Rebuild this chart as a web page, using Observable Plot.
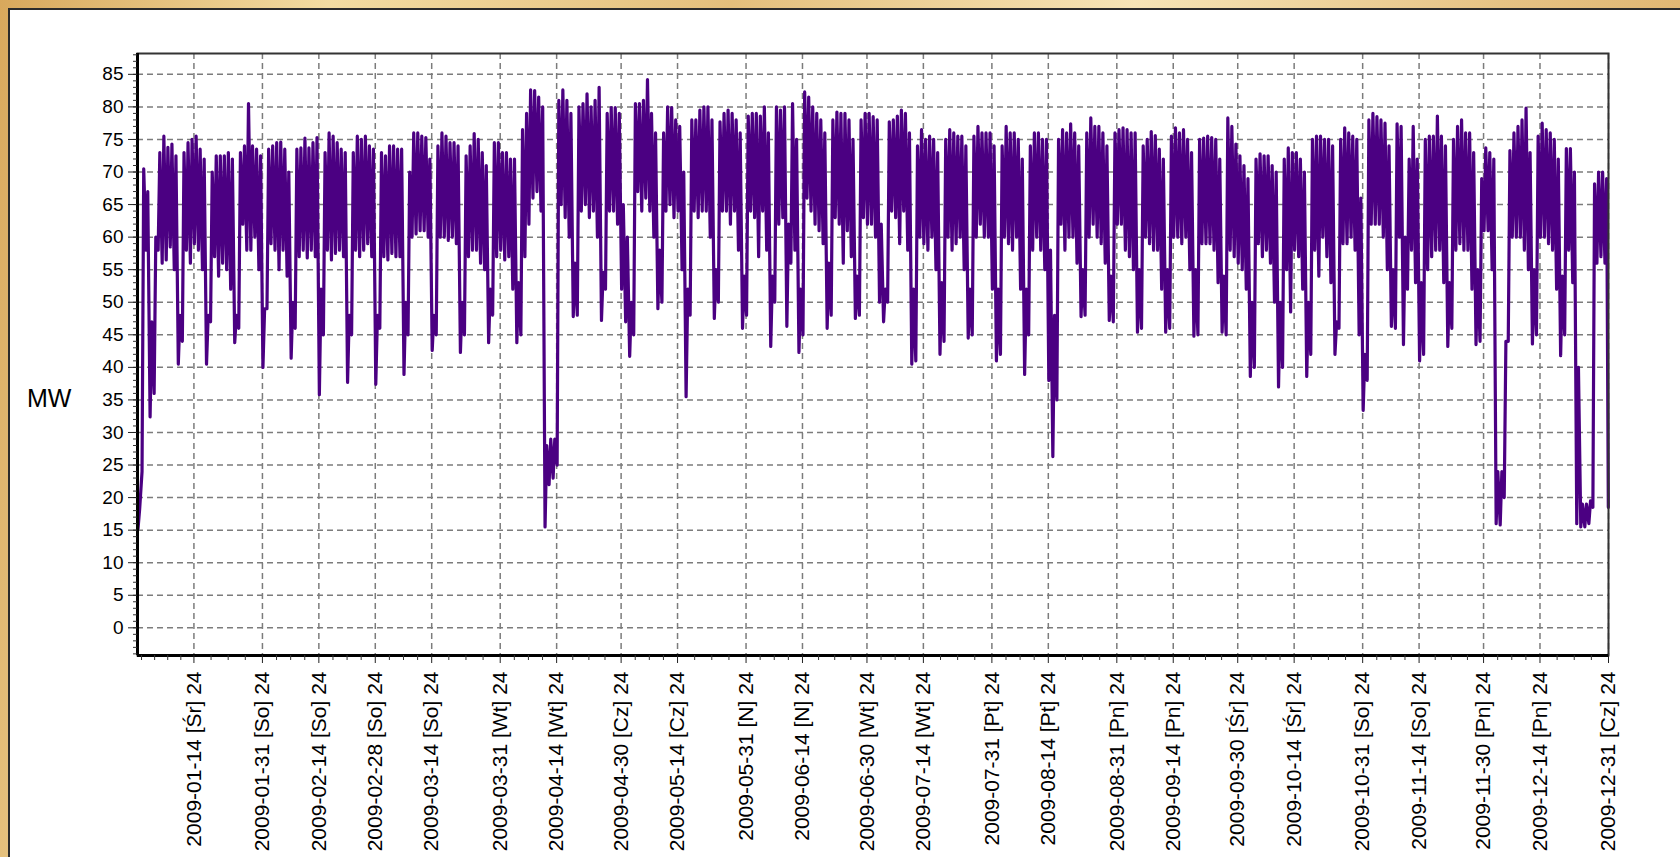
<!DOCTYPE html>
<html>
<head>
<meta charset="utf-8">
<script src="https://cdn.jsdelivr.net/npm/d3@7"></script>
<script src="https://cdn.jsdelivr.net/npm/@observablehq/plot@0.6"></script>
<style>
  html, body { margin: 0; padding: 0; width: 1680px; height: 857px; overflow: hidden; }
  body {
    position: relative;
    font-family: "Liberation Sans", Arial, sans-serif;
    background: linear-gradient(100deg, #d8a85c 0%, #f3dca2 18%, #e4bf7c 40%, #f6e4b6 62%, #e6c384 82%, #dcae66 100%);
  }
  #panel { position: absolute; left: 8px; top: 8px; right: 0; bottom: 0; background: #fff;
           border-top: 2px solid #2b2b2b; border-left: 2px solid #2b2b2b; }
  #unit { position: absolute; left: 27px; top: 386px; font-size: 25px; line-height: 25px; color: #000; }
  #chart { position: absolute; left: 0; top: 0; }
</style>
</head>
<body>
<div id="panel"></div>
<div id="unit">MW</div>
<div id="chart"></div>
<script>
// ---- data (hourly load 2009, read per day: night trough and daily peak, MW) ----
const dailyLowMW = [
  15.2, 24, 58, 32.4, 36, 58, 56,
  56.5, 58.5, 55, 40.5, 44, 58, 56,
  59, 58, 55, 40.5, 47, 57, 54,
  56, 55, 52, 43.8, 46, 62, 58,
  58, 60, 55, 40, 49, 59, 58,
  55, 58, 54, 41.4, 46, 57, 58,
  56.8, 58, 57, 35.8, 45, 58, 56.5,
  57.5, 58, 57, 37.7, 45, 58, 57,
  58, 59, 57, 37.4, 46, 57, 56.5,
  57.5, 57, 57, 38.9, 45, 60, 60.5,
  61, 61, 60, 42.6, 45, 60, 60,
  59.5, 60, 59, 42.3, 45, 57, 58,
  58, 56, 55, 43.8, 48, 57, 58,
  56.5, 57, 52, 43.8, 45, 57, 62,
  66, 67, 64, 15.5, 22, 23, 25,
  65, 63, 60, 47.8, 48, 64, 65,
  63, 64, 60, 47.2, 52, 64, 64,
  62, 52, 47, 41.7, 45, 67, 64,
  66, 64, 60, 49, 50, 64, 65,
  63, 64, 55, 35.5, 48, 64, 63,
  64, 64, 60, 47.5, 50, 64, 64,
  62, 64, 58, 46, 48, 64, 63,
  57, 64, 58, 43.2, 50, 62, 63,
  46.3, 56, 58, 42.3, 45, 66, 64,
  62, 61, 59, 46, 48, 63, 62,
  56, 61, 57, 47.5, 48, 63, 62,
  62, 60, 50, 47, 50, 64, 63,
  59, 64, 58, 40.5, 41, 60, 59,
  58, 60, 55, 42, 44, 60, 58,
  59, 60, 55, 44.5, 45, 60, 62,
  60, 60, 52, 41, 42, 60, 59,
  58, 60, 52, 38.9, 45, 58, 60,
  58, 55, 38, 26.3, 35, 62, 58,
  60, 60, 56, 47.8, 48, 60, 62,
  60, 59, 56, 47.2, 47, 62, 62,
  58, 57, 55, 45.4, 46, 60, 59,
  58, 58, 52, 45.4, 46, 60, 60,
  59, 60, 55, 44.8, 45, 59, 59,
  59, 58, 53, 45.4, 45, 58, 57,
  56, 55, 52, 38.6, 40, 59, 57,
  58, 56, 50, 37, 40, 55, 48.5,
  58, 57, 52, 38.6, 42, 58, 54,
  60, 57, 53, 42, 46, 59, 59,
  60, 58, 45, 33.4, 38, 62, 62,
  62, 60, 55, 46.3, 46, 60, 43.5,
  52, 58, 53, 41, 42, 55, 57,
  58, 58, 53, 43.2, 46, 58, 59,
  58, 58, 52, 43.5, 44, 61, 61,
  55, 16, 15.8, 20, 44, 60, 60,
  60, 58, 55, 43.6, 45, 60, 60,
  59, 58, 52, 41.8, 45, 58, 53,
  16, 15.5, 15.5, 16, 18.5, 56, 57,
  56
];
const dailyPeakMW = [
  18.3, 70.5, 67, 47, 60, 73, 75.5,
  73.8, 74.3, 72.5, 48, 73, 74.5, 75,
  75.5, 73.5, 72, 48, 70, 72.5, 72.5,
  72.5, 73, 72, 48, 73, 74, 80.5,
  74, 73.5, 72.5, 49, 73.5, 74, 74.5,
  74.6, 73.5, 70, 50, 73.5, 73.7, 75.2,
  73.7, 74.5, 75.3, 52, 73, 76, 75.5,
  74.5, 73.5, 73, 48, 73, 75.5, 75,
  75.5, 74, 73.5, 48, 73, 72.5, 74,
  74, 73.5, 73.5, 50, 70, 76, 76,
  75.5, 75.3, 72, 48, 74, 76, 75.5,
  74.5, 74.5, 74, 50, 72.5, 74, 75.9,
  75, 73, 71, 52, 74.5, 74.5, 73,
  73, 72, 72, 53, 76.5, 79, 82.6,
  82.5, 81.5, 80, 28, 29, 29, 81,
  82.6, 81, 79, 56, 80, 80.5, 82,
  80, 81, 83, 54.6, 79, 79.9, 79.9,
  79, 65, 60, 50, 80.5, 80.5, 81,
  84.2, 79, 76, 58, 76, 80, 79.9,
  78, 77, 70, 52, 78, 78, 79.5,
  80, 80, 78, 55, 77.7, 79, 79.5,
  79, 78, 76, 54, 78.6, 79, 79,
  78.6, 80, 76, 54, 80, 79.5, 80,
  62, 80.5, 75, 52, 82.3, 81.5, 80,
  79, 78, 76, 56, 78, 79.2, 79,
  79, 78, 75, 54, 78, 79, 79,
  78.5, 78, 62, 52, 77.7, 78, 78.6,
  79.5, 79, 76, 52, 74, 76.5, 75,
  75.5, 75, 73, 53, 75, 76.5, 76,
  75.5, 75.5, 74, 52, 75.5, 77, 76,
  76, 76, 74, 52, 74, 77, 76,
  76, 75, 72, 52, 74, 76, 76,
  75, 75, 58, 48, 75, 76.5, 76,
  77.4, 76, 74, 55, 76, 78.3, 77,
  77, 76, 74, 54, 76, 76.5, 76.8,
  76.5, 76, 76, 55, 74, 75, 76.2,
  75.6, 73.5, 72, 55, 75.5, 76.8, 76,
  76.5, 75, 73, 55, 75, 75.2, 75.5,
  75.3, 75, 72, 54, 78.3, 77, 74.3,
  72.5, 71, 69, 50, 72, 72.8, 72.5,
  72.5, 71, 70, 50, 72, 73.7, 73,
  73, 72, 70, 50, 75, 75.5, 75.5,
  75, 75, 74, 47, 75, 76.8, 76,
  75.5, 75, 66, 42, 78, 79, 78.5,
  78, 77.5, 74, 55, 77.4, 77, 60,
  72, 77, 72, 53, 75, 75.5, 75.5,
  78.6, 75.5, 74, 53, 75, 77, 78,
  76, 76, 73, 55, 69, 73.7, 73,
  72, 24, 24, 44, 73.3, 76, 77,
  78, 79.8, 73, 55, 75.5, 77.5, 76.5,
  76, 75, 72, 54, 73.6, 73.6, 70,
  40, 19, 19, 19.5, 68.2, 70, 70,
  69
];
const yearEndMW = 18.5;         // last hour of 2009-12-31
const troughHour = 3;           // hour the night trough is plotted at
const peakHour = 13;            // hour the daily peak is plotted at

const tickDays = ["2009-01-14","2009-01-31","2009-02-14","2009-02-28","2009-03-14","2009-03-31",
  "2009-04-14","2009-04-30","2009-05-14","2009-05-31","2009-06-14","2009-06-30","2009-07-14",
  "2009-07-31","2009-08-14","2009-08-31","2009-09-14","2009-09-30","2009-10-14","2009-10-31",
  "2009-11-14","2009-11-30","2009-12-14","2009-12-31"];
const tickWeekdays = ["Śr","So","So","So","So","Wt","Wt","Cz","Cz","N","N","Wt","Wt","Pt","Pt",
  "Pn","Pn","Śr","Śr","So","So","Pn","Pn","Cz"];
const tickHour = 24;
const yTicks = [0,5,10,15,20,25,30,35,40,45,50,55,60,65,70,75,80,85];
const unitLabel = "MW";

// ---- build ----
const HOUR = 36e5, DAY = 864e5;
const t0 = Date.UTC(2009, 0, 1), t1 = Date.UTC(2010, 0, 1);
const series = [];
dailyLowMW.forEach((lo, d) => {
  const base = t0 + d * DAY;
  series.push({t: new Date(base + troughHour * HOUR), v: lo});
  series.push({t: new Date(base + peakHour * HOUR), v: dailyPeakMW[d]});
});
series.push({t: new Date(t1 - HOUR), v: yearEndMW});

const majorX = tickDays.map(s => new Date(Date.parse(s + "T00:00:00Z") + tickHour * HOUR));
const labelOf = new Map(majorX.map((d, i) => [+d, `${tickDays[i]} [${tickWeekdays[i]}] ${tickHour}`]));
const minorX = [];
const lead = [new Date(t0 + DAY), ...majorX];
for (let i = 0; i < lead.length - 1; i++) {
  const a = +lead[i], b = +lead[i + 1];
  for (let k = (i === 0 ? 0 : 1); k < 4; k++) minorX.push(new Date(a + (b - a) * k / 4));
}
const minorY = d3.range(-4, 89, 1);
const yLo = -4.25, yHi = 88.2;

const chart = Plot.plot({
  width: 1680, height: 857,
  marginLeft: 137, marginRight: 72, marginTop: 53, marginBottom: 202,
  style: {background: "transparent", fontFamily: "'Liberation Sans', Arial, sans-serif", color: "#000"},
  x: {type: "utc", domain: [new Date(t0), new Date(t1)]},
  y: {domain: [yLo, yHi]},
  marks: [
    Plot.gridY(yTicks, {stroke: "#7c7c7c", strokeOpacity: 1, strokeWidth: 1.5, strokeDasharray: "6,4"}),
    Plot.gridX(majorX, {stroke: "#7c7c7c", strokeOpacity: 1, strokeWidth: 1.5, strokeDasharray: "6,4"}),
    Plot.line(series, {x: "t", y: "v", stroke: "#4B0082", strokeWidth: 3.2, strokeLinejoin: "round"}),
    Plot.frame({stroke: "#333", strokeWidth: 2}),
    Plot.ruleX([new Date(t0)], {stroke: "#000", strokeWidth: 3}),
    Plot.ruleY([yLo], {stroke: "#000", strokeWidth: 3}),
    Plot.axisY(minorY, {tickSize: 4, tickFormat: () => "", label: null, stroke: "#333"}),
    Plot.axisY(yTicks, {tickSize: 9, tickPadding: 5, fontSize: 19, label: null, stroke: "#222", fill: "#000"}),
    Plot.axisX(minorX, {tickSize: 5, tickFormat: () => "", label: null, stroke: "#333"}),
    Plot.axisX(majorX, {tickSize: 8, tickPadding: 8, tickRotate: -90, fontSize: 21, label: null,
      tickFormat: d => labelOf.get(+d), stroke: "#222", fill: "#000"})
  ]
});
document.getElementById("chart").append(chart);
document.getElementById("unit").textContent = unitLabel;
</script>
</body>
</html>
